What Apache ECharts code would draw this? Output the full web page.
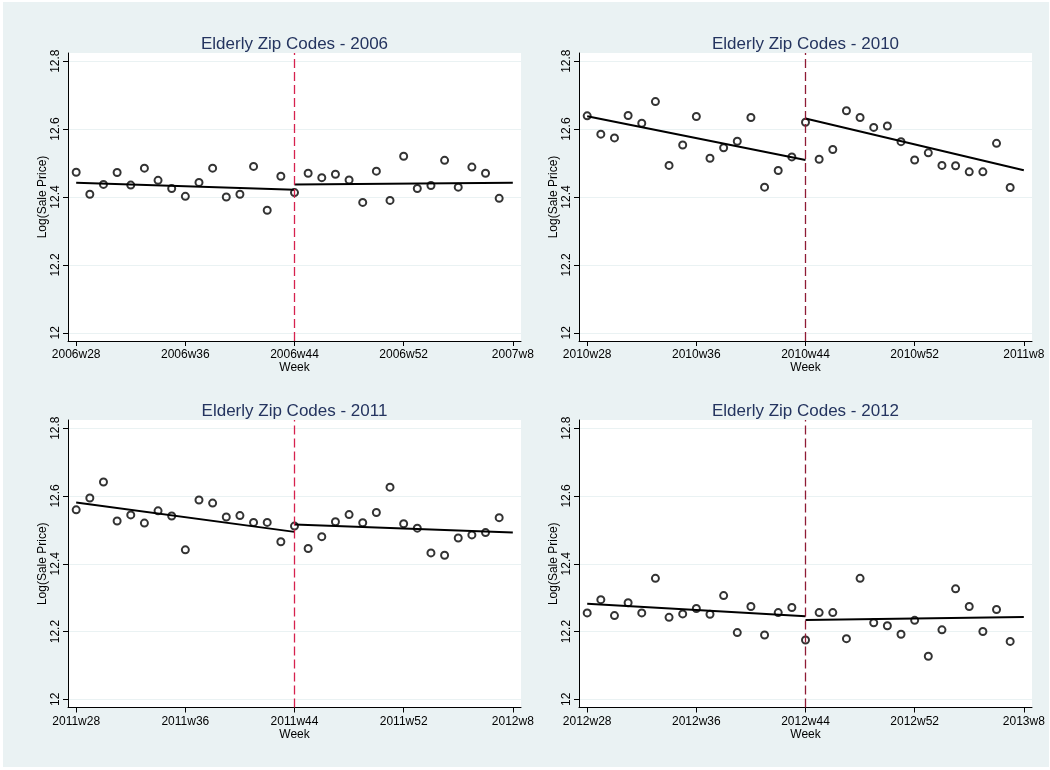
<!DOCTYPE html>
<html>
<head>
<meta charset="utf-8">
<script src="https://cdn.jsdelivr.net/npm/echarts@6/dist/echarts.min.js"></script>
<style>
  html, body { margin: 0; padding: 0; background: #ffffff; }
  #chart { position: absolute; left: 3px; top: 2px; width: 1046px; height: 765px; }
</style>
</head>
<body>
<div id="chart"></div>
<script>
// Week offsets counted from week 28 (16 = week 44, 24 = week 52, 32 = week 8 of the next year)
const weeks = [0, 1, 2, 3, 4, 5, 6, 7, 8, 9, 10, 11, 12, 13, 14, 15,
               16, 17, 18, 19, 20, 21, 22, 23, 24, 25, 26, 27, 28, 29, 30, 31];
const cutoffWeek = 16;
const preFitWeeks = [0, 16];
const postFitWeeks = [16, 32];

// Axis ticks
const xTickWeeks = [0, 8, 16, 24, 32];
const yTicks = [12, 12.2, 12.4, 12.6, 12.8];
const ticks2006 = ['2006w28', '2006w36', '2006w44', '2006w52', '2007w8'];
const ticks2010 = ['2010w28', '2010w36', '2010w44', '2010w52', '2011w8'];
const ticks2011 = ['2011w28', '2011w36', '2011w44', '2011w52', '2012w8'];
const ticks2012 = ['2012w28', '2012w36', '2012w44', '2012w52', '2013w8'];

// Weekly mean log sale price
const price2006 = [12.473, 12.408, 12.437, 12.472, 12.435, 12.485, 12.449, 12.425, 12.402, 12.443, 12.485, 12.400, 12.408, 12.490, 12.361, 12.461,
                   12.413, 12.470, 12.457, 12.467, 12.450, 12.384, 12.476, 12.390, 12.520, 12.425, 12.434, 12.508, 12.429, 12.488, 12.470, 12.396];
const price2010 = [12.639, 12.585, 12.574, 12.640, 12.617, 12.681, 12.493, 12.553, 12.637, 12.514, 12.545, 12.564, 12.634, 12.429, 12.478, 12.518,
                   12.620, 12.511, 12.540, 12.654, 12.634, 12.605, 12.609, 12.563, 12.509, 12.530, 12.493, 12.492, 12.474, 12.474, 12.558, 12.428];
const price2011 = [12.559, 12.594, 12.641, 12.526, 12.544, 12.520, 12.556, 12.541, 12.441, 12.588, 12.579, 12.538, 12.542, 12.522, 12.522, 12.465,
                   12.511, 12.445, 12.480, 12.524, 12.545, 12.521, 12.551, 12.626, 12.518, 12.505, 12.432, 12.425, 12.476, 12.485, 12.492, 12.536];
const price2012 = [12.255, 12.294, 12.247, 12.285, 12.255, 12.357, 12.242, 12.252, 12.268, 12.251, 12.306, 12.197, 12.274, 12.190, 12.256, 12.271,
                   12.175, 12.256, 12.256, 12.179, 12.357, 12.226, 12.217, 12.192, 12.233, 12.127, 12.205, 12.326, 12.274, 12.200, 12.265, 12.171];

// Linear fits before and after week 44 (values at the segment ends)
const fit2006Pre = [12.442, 12.421], fit2006Post = [12.437, 12.442];
const fit2010Pre = [12.638, 12.509], fit2010Post = [12.631, 12.479];
const fit2011Pre = [12.581, 12.494], fit2011Post = [12.516, 12.492];
const fit2012Pre = [12.282, 12.245], fit2012Post = [12.234, 12.243];

const FONT = '"Liberation Sans", Arial, Helvetica, sans-serif';
const GRID_W = 453;

const panels = [
  { title: 'Elderly Zip Codes - 2006', ticks: ticks2006, y: price2006, pre: fit2006Pre, post: fit2006Post,
    cut: '#d6214e', left: 65, top: 51, height: 288 },
  { title: 'Elderly Zip Codes - 2010', ticks: ticks2010, y: price2010, pre: fit2010Pre, post: fit2010Post,
    cut: '#8f1b35', left: 576, top: 51, height: 288 },
  { title: 'Elderly Zip Codes - 2011', ticks: ticks2011, y: price2011, pre: fit2011Pre, post: fit2011Post,
    cut: '#d6214e', left: 65, top: 418, height: 287.5 },
  { title: 'Elderly Zip Codes - 2012', ticks: ticks2012, y: price2012, pre: fit2012Pre, post: fit2012Post,
    cut: '#8f1b35', left: 576, top: 418, height: 287.5 }
];

const option = {
  animation: false,
  backgroundColor: '#eaf2f3',
  title: [], grid: [], xAxis: [], yAxis: [], series: []
};

panels.forEach((p, i) => {
  option.title.push({
    text: p.title,
    left: p.left + GRID_W / 2,
    top: p.top - 17,
    padding: 0,
    textAlign: 'center',
    textStyle: { fontFamily: FONT, fontSize: 17, fontWeight: 'normal', color: '#24345f' }
  });
  option.grid.push({
    left: p.left, top: p.top, width: GRID_W, height: p.height,
    show: true, backgroundColor: '#ffffff', borderWidth: 0, containLabel: false
  });
  option.xAxis.push({
    type: 'value', gridIndex: i, min: -0.6, max: 32.6,
    name: 'Week', nameLocation: 'middle', nameGap: 21,
    nameTextStyle: { fontFamily: FONT, fontSize: 12, color: '#000' },
    axisLine: { show: true, onZero: false, lineStyle: { color: '#000', width: 1 } },
    axisTick: { show: true, length: 5, customValues: xTickWeeks, lineStyle: { color: '#000', width: 1 } },
    axisLabel: {
      customValues: xTickWeeks, margin: 8,
      fontFamily: FONT, fontSize: 12, color: '#000',
      formatter: v => p.ticks[xTickWeeks.indexOf(Math.round(v))]
    },
    splitLine: { show: false }
  });
  option.yAxis.push({
    type: 'value', gridIndex: i, min: 11.976, max: 12.824,
    name: 'Log(Sale Price)', nameLocation: 'middle', nameGap: 17, nameRotate: 90,
    nameTextStyle: { fontFamily: FONT, fontSize: 12, color: '#000' },
    axisLine: { show: true, onZero: false, lineStyle: { color: '#000', width: 1 } },
    axisTick: { show: true, length: 5, customValues: yTicks, lineStyle: { color: '#000', width: 1 } },
    axisLabel: {
      customValues: yTicks, rotate: 90, margin: 6,
      fontFamily: FONT, fontSize: 12, color: '#000',
      formatter: v => String(Math.round(v * 10) / 10)
    },
    splitLine: { show: true, lineStyle: { color: '#eaf2f3', width: 1 } }
  });
  option.series.push({
    type: 'line', xAxisIndex: i, yAxisIndex: i, showSymbol: false, silent: true,
    data: preFitWeeks.map((w, k) => [w, p.pre[k]]),
    lineStyle: { color: '#000', width: 2 }, z: 3
  });
  option.series.push({
    type: 'line', xAxisIndex: i, yAxisIndex: i, showSymbol: false, silent: true,
    data: postFitWeeks.map((w, k) => [w, p.post[k]]),
    lineStyle: { color: '#000', width: 2 }, z: 3
  });
  option.series.push({
    type: 'scatter', xAxisIndex: i, yAxisIndex: i, symbol: 'circle', symbolSize: 7,
    data: weeks.map((w, k) => [w, p.y[k]]),
    itemStyle: { color: 'rgba(255,255,255,0)', borderColor: '#000', borderWidth: 2 },
    z: 4,
    markLine: {
      silent: true, symbol: 'none', label: { show: false },
      lineStyle: { color: p.cut, type: [9, 4], width: 1.3 },
      data: [{ xAxis: cutoffWeek }]
    }
  });
});

const chart = echarts.init(document.getElementById('chart'), null, { renderer: 'canvas' });
chart.setOption(option);
</script>
</body>
</html>
